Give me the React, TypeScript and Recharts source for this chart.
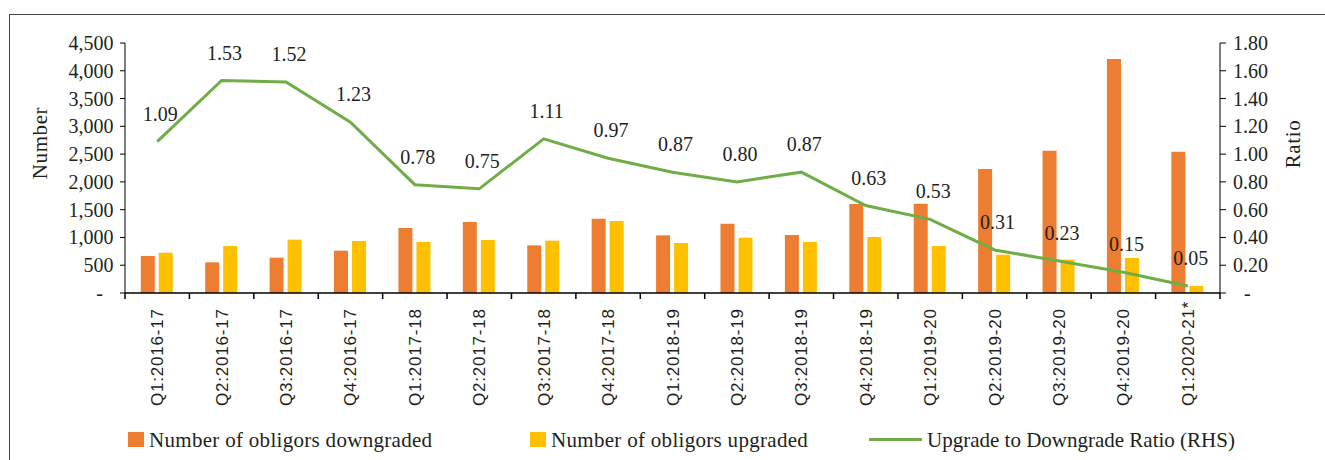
import React from 'react';
import { ComposedChart, Bar, Line, XAxis, YAxis, Legend, LabelList, Label } from 'recharts';

const quarters = [
  'Q1:2016-17', 'Q2:2016-17', 'Q3:2016-17', 'Q4:2016-17',
  'Q1:2017-18', 'Q2:2017-18', 'Q3:2017-18', 'Q4:2017-18',
  'Q1:2018-19', 'Q2:2018-19', 'Q3:2018-19', 'Q4:2018-19',
  'Q1:2019-20', 'Q2:2019-20', 'Q3:2019-20', 'Q4:2019-20',
  'Q1:2020-21*',
];
const downgraded = [666, 552, 636, 762, 1170, 1278, 858, 1338, 1038, 1248, 1044, 1602, 1608, 2232, 2562, 4212, 2543];
const upgraded = [725, 846, 960, 936, 918, 954, 942, 1296, 900, 996, 918, 1008, 846, 690, 600, 630, 126];
const ratio = [1.09, 1.53, 1.52, 1.23, 0.78, 0.75, 1.11, 0.97, 0.87, 0.8, 0.87, 0.63, 0.53, 0.31, 0.23, 0.15, 0.05];

const leftTicks = [0, 500, 1000, 1500, 2000, 2500, 3000, 3500, 4000, 4500];
const rightTicks = [0, 0.2, 0.4, 0.6, 0.8, 1.0, 1.2, 1.4, 1.6, 1.8];

const nameDown = 'Number of obligors downgraded';
const nameUp = 'Number of obligors upgraded';
const nameRatio = 'Upgrade to Downgrade Ratio (RHS)';
const leftTitle = 'Number';
const rightTitle = 'Ratio';

const COLOR_DOWN = '#ED7D31';
const COLOR_UP = '#FFC000';
const COLOR_RATIO = '#70AD47';
const TEXT = '#231f20';
const SERIF = "'Liberation Serif', 'Times New Roman', serif";
const SANS = "'Liberation Sans', Arial, sans-serif";

const data = quarters.map((q, i) => ({
  quarter: q,
  down: downgraded[i],
  up: upgraded[i],
  ratio: ratio[i],
}));

const XTick = (props: any) => {
  const { x, y, payload, index, width, visibleTicksCount } = props;
  const count = visibleTicksCount || quarters.length;
  const band = width && count ? width / count : 1095 / 17;
  const lx = x - band / 2;
  return (
    <g>
      <line x1={lx} y1={y} x2={lx} y2={y + 6} stroke="#000" strokeWidth={1.5} />
      {index === count - 1 && (
        <line x1={x + band / 2} y1={y} x2={x + band / 2} y2={y + 6} stroke="#000" strokeWidth={1.5} />
      )}
      <text
        transform={`translate(${x + 6},${y + 113}) rotate(-90)`}
        textAnchor="start"
        fontFamily={SANS}
        fontSize={17}
        letterSpacing={0.8}
        fill={TEXT}
      >
        {payload.value}
      </text>
    </g>
  );
};

const LeftTick = (props: any) => {
  const { x, y, payload } = props;
  const v = payload.value;
  return (
    <text
      x={v === 0 ? x - 10.5 : x}
      y={y}
      dy="0.35em"
      textAnchor="end"
      fontFamily={SERIF}
      fontSize={20}
      fill={TEXT}
    >
      {v === 0 ? '-' : Number(v).toLocaleString('en-US')}
    </text>
  );
};

const RightTick = (props: any) => {
  const { x, y, payload } = props;
  const v = payload.value;
  return (
    <text
      x={v === 0 ? x + 11 : x}
      y={y}
      dy="0.35em"
      textAnchor="start"
      fontFamily={SERIF}
      fontSize={20}
      fill={TEXT}
    >
      {v === 0 ? '-' : Number(v).toFixed(2)}
    </text>
  );
};

const RatioLabel = (props: any) => {
  const vb = props.viewBox || {};
  const x = props.x ?? vb.x;
  const y = props.y ?? vb.y;
  if (x == null || y == null) return null;
  return (
    <text x={x + 3} y={y - 21} textAnchor="middle" fontFamily={SERIF} fontSize={20} fill={TEXT}>
      {Number(props.value).toFixed(2)}
    </text>
  );
};

const LeftTitle = (props: any) => {
  const vb = props.viewBox || { x: 0, y: 43, width: 125, height: 250 };
  return (
    <text
      transform={`translate(${vb.x + 40},${vb.y + vb.height / 2 - 25}) rotate(-90)`}
      textAnchor="middle"
      dominantBaseline="central"
      fontFamily={SERIF}
      fontSize={21}
      letterSpacing={0.6}
      fill={TEXT}
    >
      {leftTitle}
    </text>
  );
};

const RightTitle = (props: any) => {
  const vb = props.viewBox || { x: 1220, y: 43, width: 105, height: 250 };
  return (
    <text
      transform={`translate(${vb.x + 73},${vb.y + vb.height / 2 - 24}) rotate(-90)`}
      textAnchor="middle"
      dominantBaseline="central"
      fontFamily={SERIF}
      fontSize={21}
      letterSpacing={0.6}
      fill={TEXT}
    >
      {rightTitle}
    </text>
  );
};

const LegendContent = () => {
  const textStyle: React.CSSProperties = {
    position: 'absolute',
    top: 0,
    lineHeight: '24px',
    fontFamily: SERIF,
    fontSize: 21,
    letterSpacing: 0.3,
    color: TEXT,
    whiteSpace: 'nowrap',
  };
  return (
    <div style={{ position: 'relative', width: 1325, height: 30 }}>
      <div style={{ position: 'absolute', left: 128, top: 4, width: 16, height: 15, background: COLOR_DOWN }} />
      <div style={{ ...textStyle, left: 149 }}>{nameDown}</div>
      <div style={{ position: 'absolute', left: 530, top: 4, width: 16, height: 15, background: COLOR_UP }} />
      <div style={{ ...textStyle, left: 551 }}>{nameUp}</div>
      <div style={{ position: 'absolute', left: 869, top: 10, width: 53, height: 3, background: COLOR_RATIO }} />
      <div style={{ ...textStyle, left: 927, letterSpacing: 0 }}>{nameRatio}</div>
    </div>
  );
};

export default function App() {
  return (
    <div
      style={{
        position: 'fixed',
        left: 0,
        top: 0,
        width: 1325,
        height: 460,
        overflow: 'hidden',
        background: '#fff',
      }}
    >
      <div
        style={{
          position: 'absolute',
          left: 9,
          top: 14,
          width: 2000,
          height: 1000,
          borderLeft: '1px solid #444',
          borderTop: '1px solid #444',
        }}
      />
      <div style={{ position: 'absolute', left: 0, top: 0 }}>
        <ComposedChart
          width={1325}
          height={460}
          data={data}
          margin={{ top: 43, right: 0, bottom: 0, left: 0 }}
          barCategoryGap="24.5%"
          barGap={4}
        >
          <XAxis
            dataKey="quarter"
            interval={0}
            tickSize={0}
            tickMargin={0}
            tickLine={false}
            axisLine={{ stroke: '#000', strokeWidth: 1.5 }}
            height={167}
            tick={<XTick />}
          />
          <YAxis
            yAxisId="left"
            orientation="left"
            width={125}
            domain={[0, 4500]}
            ticks={leftTicks}
            interval={0}
            tickSize={5}
            tickMargin={6.5}
            axisLine={{ stroke: '#000', strokeWidth: 1 }}
            tickLine={{ stroke: '#000', strokeWidth: 1 }}
            tick={<LeftTick />}
          >
            <Label content={<LeftTitle />} />
          </YAxis>
          <YAxis
            yAxisId="right"
            orientation="right"
            width={105}
            domain={[0, 1.8]}
            ticks={rightTicks}
            interval={0}
            tickSize={6}
            tickMargin={7}
            axisLine={{ stroke: '#000', strokeWidth: 1 }}
            tickLine={{ stroke: '#000', strokeWidth: 1 }}
            tick={<RightTick />}
          >
            <Label content={<RightTitle />} />
          </YAxis>
          <Legend
            layout="horizontal"
            verticalAlign="middle"
            align="center"
            wrapperStyle={{ left: 0, top: 428, width: 1325, height: 30 }}
            content={<LegendContent />}
          />
          <Bar yAxisId="left" dataKey="down" name={nameDown} fill={COLOR_DOWN} isAnimationActive={false} />
          <Bar yAxisId="left" dataKey="up" name={nameUp} fill={COLOR_UP} isAnimationActive={false} />
          <Line
            yAxisId="right"
            type="linear"
            dataKey="ratio"
            name={nameRatio}
            stroke={COLOR_RATIO}
            strokeWidth={3}
            dot={false}
            activeDot={false}
            isAnimationActive={false}
          >
            <LabelList dataKey="ratio" content={<RatioLabel />} />
          </Line>
        </ComposedChart>
      </div>
    </div>
  );
}
